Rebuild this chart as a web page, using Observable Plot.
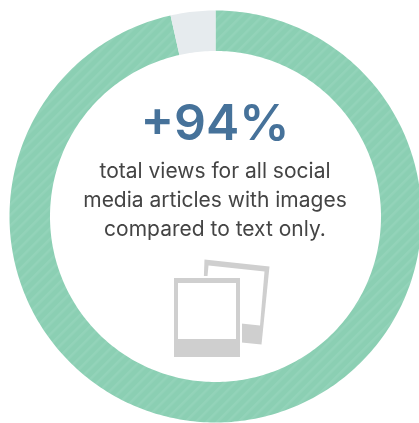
<!DOCTYPE html>
<html><head><meta charset="utf-8">
<script src="https://cdn.jsdelivr.net/npm/d3@7"></script>
<script src="https://cdn.jsdelivr.net/npm/@observablehq/plot@0.6"></script>
<style>html,body{margin:0;padding:0;background:#fff;overflow:hidden}svg{display:block;filter:blur(0.5px)}</style>
</head><body><div id="c"></div>
<script>
const categories = ["with images", "text only"];
const shares = [96.5, 3.5];
const sliceColors = ["url(#hatch)", "#e6ebee"];
const headline = "+94%";
const bodyLines = ["total views for all social", "media articles with images", "compared to text only."];
const bodyBaselines = [177, 206, 235];
const ring = {cx: 215, cy: 216, outer: 206, inner: 165.5};

// Slices of the ring, traced from the shares
const pie = d3.pie().sort(null).value(d => d.share)(categories.map((category, i) => ({category, share: shares[i], fill: sliceColors[i]})));
const slices = pie.flatMap(s => {
  const n = Math.ceil((s.endAngle - s.startAngle) * 60);
  const angles = d3.range(n + 1).map(i => s.startAngle + (s.endAngle - s.startAngle) * i / n);
  const pt = (a, r) => ({x: ring.cx + r * Math.sin(a), y: ring.cy - r * Math.cos(a), category: s.data.category, fill: s.data.fill});
  return [...angles.map(a => pt(a, ring.outer)), ...angles.reverse().map(a => pt(a, ring.inner))];
});

// Photo icon
const backPhoto = [[204,259],[269,266],[261,344],[201,338]];
const backWindow = [[208,265],[264,271],[259.5,325],[203,319]];
const toPts = a => a.map(([x, y]) => ({x, y}));

const hatch = () => {
  const svg = d3.create("svg:defs");
  const p = svg.append("pattern").attr("id", "hatch").attr("patternUnits", "userSpaceOnUse")
    .attr("width", 7.5).attr("height", 7.5).attr("patternTransform", "rotate(45)");
  p.append("rect").attr("width", 7.5).attr("height", 7.5).attr("fill", "#8bcfb3");
  p.append("rect").attr("width", 2.5).attr("height", 7.5).attr("fill", "#93d3b9");
  return svg.node();
};

const chart = Plot.plot({
  width: 419, height: 423, margin: 0,
  x: {domain: [0, 419], range: [0, 419], axis: null},
  y: {domain: [0, 423], range: [0, 423], axis: null},
  style: {background: "#fff"},
  marks: [
    hatch,
    Plot.line(slices, {x: "x", y: "y", z: "category", fill: "fill", stroke: null, curve: "linear-closed"}),
    Plot.text([headline], {x: () => 214.5, y: () => 139, text: d => d, fontFamily: "Inter", fontSize: 50, fill: "#46729a", fontWeight: 600, lineAnchor: "bottom"}),
    Plot.text(bodyLines, {x: () => 214.5, y: (d, i) => bodyBaselines[i], text: d => d, fontFamily: "Inter", fontSize: 21, fill: "#444", lineAnchor: "bottom"}),
    Plot.line(toPts(backPhoto), {x: "x", y: "y", fill: "#cfcfcf", stroke: null, curve: "linear-closed"}),
    Plot.line(toPts(backWindow), {x: "x", y: "y", fill: "#fff", stroke: null, curve: "linear-closed"}),
    Plot.rect([0], {x1: () => 172, x2: () => 242, y1: () => 276, y2: () => 357, fill: "#fff"}),
    Plot.rect([0], {x1: () => 174, x2: () => 240, y1: () => 278, y2: () => 357, fill: "#cfcfcf"}),
    Plot.rect([0], {x1: () => 178, x2: () => 236, y1: () => 283, y2: () => 339, fill: "#fff"})
  ]
});
document.getElementById("c").append(chart);
</script></body></html>
